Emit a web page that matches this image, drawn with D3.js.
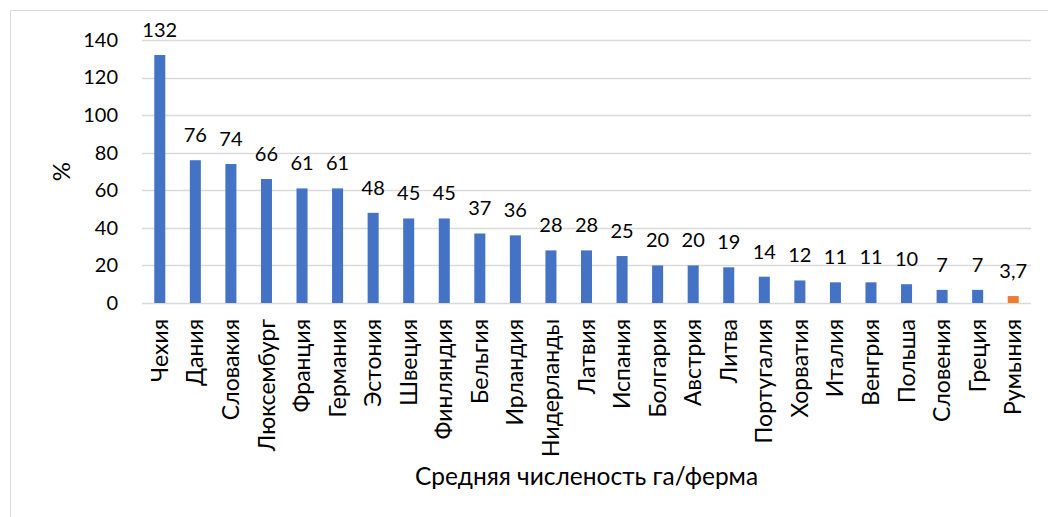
<!DOCTYPE html>
<html lang="ru">
<head>
<meta charset="UTF-8">
<title>Средняя численость га/ферма</title>
<script src="https://d3js.org/d3.v7.min.js"></script>
<style>
  body { margin: 0; background: #fff; }
  text { font-family: Lato, "Open Sans", sans-serif; fill: #000; }
</style>
</head>
<body>
<div id="chart"></div>
<script>
// data
const countries = ["Чехия", "Дания", "Словакия", "Люксембург", "Франция", "Германия", "Эстония",
  "Швеция", "Финляндия", "Бельгия", "Ирландия", "Нидерланды", "Латвия", "Испания", "Болгария",
  "Австрия", "Литва", "Португалия", "Хорватия", "Италия", "Венгрия", "Польша", "Словения",
  "Греция", "Румыния"];
const values = [132, 76, 74, 66, 61, 61, 48, 45, 45, 37, 36, 28, 28, 25, 20, 20, 19, 14, 12, 11, 11, 10, 7, 7, 3.7];
const yTicks = [0, 20, 40, 60, 80, 100, 120, 140];
const highlight = "Румыния";

const W = 1048, H = 517;
const margin = { top: 40, right: 17, bottom: 214, left: 142 };
const width = W - margin.left - margin.right;
const height = H - margin.top - margin.bottom;

const svg = d3.select("#chart").append("svg")
    .attr("width", W)
    .attr("height", H);

// outer frame (runs off the right and bottom edge, as in the picture)
svg.append("rect")
    .attr("x", 10.5).attr("y", 10.5)
    .attr("width", W + 20).attr("height", H + 20)
    .attr("fill", "none")
    .attr("stroke", "#d9d9d9");

const g = svg.append("g")
    .attr("transform", "translate(" + margin.left + "," + margin.top + ")");

const x = d3.scaleBand()
    .domain(countries)
    .range([0, width])
    .paddingInner(0.69)
    .paddingOuter(0.345);

const y = d3.scaleLinear()
    .domain([0, 140])
    .range([height, 0]);

// gridlines
g.append("g")
    .selectAll("line")
    .data(yTicks)
    .enter().append("line")
    .attr("x1", 0).attr("x2", width)
    .attr("y1", d => Math.round(y(d)) + 0.5)
    .attr("y2", d => Math.round(y(d)) + 0.5)
    .attr("stroke", "#d9d9d9")
    .attr("stroke-width", 1.5);

// y axis labels
const yAxis = g.append("g")
    .call(d3.axisLeft(y).tickValues(yTicks).tickSize(0).tickPadding(24));
yAxis.select(".domain").remove();
yAxis.selectAll("text")
    .style("font-family", "Lato, sans-serif")
    .style("font-size", "20px")
    .attr("fill", "#000");

// bars
g.selectAll(".bar")
    .data(values)
    .enter().append("rect")
    .attr("class", "bar")
    .attr("x", (d, i) => x(countries[i]))
    .attr("y", d => y(d))
    .attr("width", x.bandwidth())
    .attr("height", d => y(0) - y(d))
    .attr("fill", (d, i) => countries[i] === highlight ? "#ed7d31" : "#4472c4");

// value labels
g.selectAll(".val")
    .data(values)
    .enter().append("text")
    .attr("class", "val")
    .attr("x", (d, i) => x(countries[i]) + x.bandwidth() / 2)
    .attr("y", d => y(d) - 18)
    .attr("text-anchor", "middle")
    .style("font-size", "20px")
    .text(d => String(d).replace(".", ","));

// category labels
const xAxis = g.append("g")
    .attr("transform", "translate(0," + height + ")")
    .call(d3.axisBottom(x).tickSize(0).tickPadding(0));
xAxis.select(".domain").remove();
xAxis.selectAll("text")
    .style("font-family", "Lato, sans-serif")
    .style("font-size", "23px")
    .attr("fill", "#000")
    .attr("transform", "rotate(-90)")
    .attr("x", -16)
    .attr("y", 0)
    .attr("dy", "0.35em")
    .style("text-anchor", "end");

// axis titles
svg.append("text")
    .attr("x", margin.left + width / 2)
    .attr("y", 485)
    .attr("text-anchor", "middle")
    .style("font-size", "24.5px")
    .text("Средняя численость га/ферма");

svg.append("text")
    .attr("transform", "translate(70," + (margin.top + height / 2) + ") rotate(-90)")
    .attr("text-anchor", "middle")
    .style("font-size", "24px")
    .text("%");
</script>
</body>
</html>
